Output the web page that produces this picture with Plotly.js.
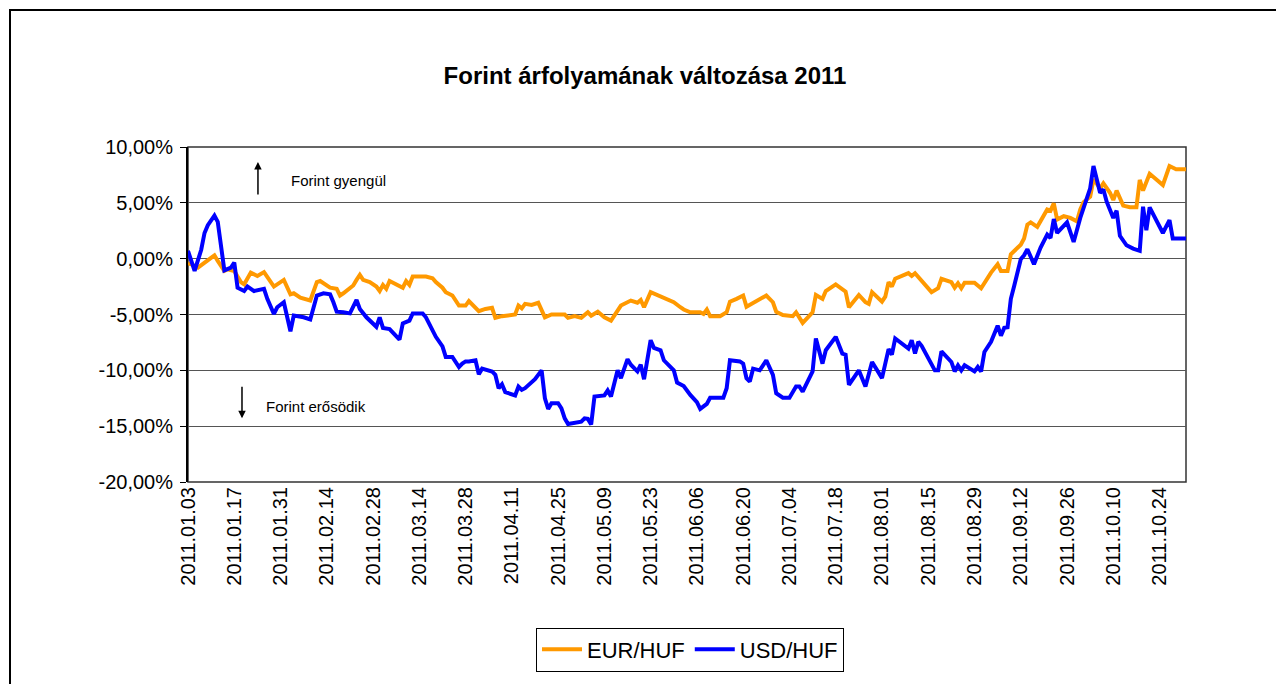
<!DOCTYPE html>
<html>
<head>
<meta charset="utf-8">
<script src="https://cdn.plot.ly/plotly-3.0.1.min.js"></script>
<style>
  html, body { margin: 0; padding: 0; background: #fff; overflow: hidden; }
  #frame { position: absolute; left: 9px; top: 9px; width: 1400px; height: 800px; border: 2px solid #000; box-sizing: border-box; }
  #chart { position: absolute; left: 0; top: 0; width: 1276px; height: 684px; }
</style>
</head>
<body>
<div id="frame"></div>
<div id="chart"></div>
<script>
const FONT = '"Liberation Sans", Arial, sans-serif';

const usdDates = ['2011-01-03','2011-01-05','2011-01-07','2011-01-08','2011-01-09','2011-01-11','2011-01-12','2011-01-13','2011-01-14','2011-01-16',
'2011-01-17','2011-01-18','2011-01-20','2011-01-21','2011-01-23','2011-01-26','2011-01-27','2011-01-29','2011-01-30','2011-02-01',
'2011-02-03','2011-02-04','2011-02-07','2011-02-09','2011-02-11','2011-02-13','2011-02-15','2011-02-16','2011-02-17','2011-02-19',
'2011-02-21','2011-02-23','2011-02-24','2011-02-26','2011-02-27','2011-03-01','2011-03-02','2011-03-03','2011-03-05','2011-03-08',
'2011-03-09','2011-03-11','2011-03-12','2011-03-15','2011-03-16','2011-03-18','2011-03-19','2011-03-21','2011-03-22','2011-03-24',
'2011-03-26','2011-03-27','2011-03-28','2011-03-29','2011-03-31','2011-04-01','2011-04-02','2011-04-05','2011-04-06','2011-04-07',
'2011-04-08','2011-04-09','2011-04-12','2011-04-13','2011-04-14','2011-04-15','2011-04-17','2011-04-18','2011-04-20','2011-04-21',
'2011-04-22','2011-04-23','2011-04-25','2011-04-26','2011-04-27','2011-04-28','2011-05-02','2011-05-03','2011-05-04','2011-05-05',
'2011-05-06','2011-05-09','2011-05-10','2011-05-11','2011-05-13','2011-05-14','2011-05-16','2011-05-17','2011-05-19','2011-05-20',
'2011-05-21','2011-05-23','2011-05-24','2011-05-26','2011-05-27','2011-05-30','2011-05-31','2011-06-02','2011-06-04','2011-06-06',
'2011-06-07','2011-06-09','2011-06-10','2011-06-14','2011-06-15','2011-06-16','2011-06-19','2011-06-20','2011-06-21','2011-06-22',
'2011-06-23','2011-06-25','2011-06-27','2011-06-29','2011-06-30','2011-07-02','2011-07-04','2011-07-06','2011-07-07','2011-07-08',
'2011-07-11','2011-07-12','2011-07-14','2011-07-15','2011-07-18','2011-07-20','2011-07-21','2011-07-22','2011-07-25','2011-07-27',
'2011-07-29','2011-08-01','2011-08-03','2011-08-04','2011-08-05','2011-08-09','2011-08-10','2011-08-11','2011-08-12','2011-08-13',
'2011-08-17','2011-08-18','2011-08-19','2011-08-22','2011-08-23','2011-08-24','2011-08-25','2011-08-26','2011-08-29','2011-08-30',
'2011-08-31','2011-09-01','2011-09-03','2011-09-05','2011-09-06','2011-09-07','2011-09-08','2011-09-09','2011-09-10','2011-09-12',
'2011-09-13','2011-09-14','2011-09-16','2011-09-18','2011-09-20','2011-09-21','2011-09-22','2011-09-23','2011-09-26','2011-09-28',
'2011-09-30','2011-10-03','2011-10-04','2011-10-05','2011-10-06','2011-10-07','2011-10-08','2011-10-10','2011-10-11','2011-10-12',
'2011-10-14','2011-10-16','2011-10-18','2011-10-19','2011-10-20','2011-10-21','2011-10-23','2011-10-25','2011-10-27','2011-10-28',
'2011-11-01'];
const usdValues = [0.7,-1.1,0.8,2.3,3.0,3.85,3.3,1.4,-1.05,-0.8,
-0.35,-2.6,-2.9,-2.5,-2.9,-2.7,-3.6,-4.95,-4.35,-3.9,
-6.5,-5.1,-5.25,-5.45,-3.3,-3.1,-3.2,-3.9,-4.75,-4.8,
-4.9,-3.7,-4.5,-5.25,-5.5,-6.1,-5.25,-6.2,-6.3,-7.25,
-5.8,-5.55,-4.9,-4.9,-5.25,-6.4,-7.0,-7.85,-8.8,-8.8,
-9.7,-9.4,-9.2,-9.2,-9.1,-10.35,-9.85,-10.1,-10.4,-11.6,
-11.25,-11.95,-12.25,-11.45,-11.75,-11.6,-11.1,-10.8,-10.0,-12.5,
-13.45,-12.95,-12.95,-13.4,-14.3,-14.8,-14.6,-14.3,-14.35,-14.85,
-12.35,-12.25,-11.8,-12.35,-10.0,-10.7,-9.0,-9.5,-10.1,-9.5,
-10.8,-7.3,-8.0,-8.2,-9.1,-10.0,-11.1,-11.4,-12.2,-12.85,
-13.45,-13.0,-12.45,-12.45,-11.6,-9.1,-9.2,-9.4,-10.7,-11.0,
-9.85,-10.0,-9.1,-10.4,-12.05,-12.45,-12.45,-11.45,-11.45,-11.9,
-10.1,-7.15,-9.4,-8.2,-7.0,-8.5,-8.6,-11.3,-10.0,-11.45,
-9.25,-10.7,-8.1,-8.6,-7.15,-8.05,-7.3,-8.5,-7.45,-7.8,
-10.0,-10.0,-8.3,-9.25,-10.1,-9.55,-10.0,-9.55,-10.1,-9.7,
-10.1,-8.35,-7.45,-6.0,-6.9,-6.2,-6.15,-3.6,-2.45,-0.05,
0.3,0.85,-0.5,1.0,2.15,1.85,3.55,2.3,3.25,1.5,
3.65,6.3,8.3,7.2,5.9,6.2,5.1,3.65,4.3,2.05,
1.2,0.9,0.7,4.65,2.55,4.6,3.5,2.3,3.45,1.8,
1.8];

const eurDates = ['2011-01-03','2011-01-04','2011-01-06','2011-01-08','2011-01-11','2011-01-12','2011-01-14','2011-01-15','2011-01-17','2011-01-19',
'2011-01-20','2011-01-22','2011-01-24','2011-01-26','2011-01-29','2011-02-01','2011-02-03','2011-02-04','2011-02-06','2011-02-09',
'2011-02-11','2011-02-12','2011-02-13','2011-02-15','2011-02-17','2011-02-18','2011-02-19','2011-02-21','2011-02-22','2011-02-23',
'2011-02-24','2011-02-25','2011-02-27','2011-03-01','2011-03-02','2011-03-03','2011-03-04','2011-03-05','2011-03-07','2011-03-09',
'2011-03-10','2011-03-11','2011-03-12','2011-03-16','2011-03-18','2011-03-19','2011-03-21','2011-03-22','2011-03-24','2011-03-25',
'2011-03-26','2011-03-28','2011-03-29','2011-04-01','2011-04-03','2011-04-05','2011-04-06','2011-04-08','2011-04-12','2011-04-13',
'2011-04-14','2011-04-15','2011-04-17','2011-04-19','2011-04-21','2011-04-23','2011-04-27','2011-04-28','2011-04-30','2011-05-02',
'2011-05-04','2011-05-05','2011-05-07','2011-05-09','2011-05-11','2011-05-13','2011-05-14','2011-05-17','2011-05-19','2011-05-20',
'2011-05-21','2011-05-23','2011-05-25','2011-05-28','2011-05-30','2011-06-01','2011-06-02','2011-06-04','2011-06-07','2011-06-08',
'2011-06-09','2011-06-10','2011-06-13','2011-06-15','2011-06-16','2011-06-18','2011-06-20','2011-06-21','2011-06-24','2011-06-27',
'2011-06-29','2011-06-30','2011-07-02','2011-07-05','2011-07-06','2011-07-08','2011-07-11','2011-07-12','2011-07-14','2011-07-15',
'2011-07-18','2011-07-21','2011-07-22','2011-07-25','2011-07-27','2011-07-28','2011-07-29','2011-08-01','2011-08-02','2011-08-03',
'2011-08-04','2011-08-05','2011-08-09','2011-08-10','2011-08-11','2011-08-14','2011-08-16','2011-08-18','2011-08-19','2011-08-22',
'2011-08-23','2011-08-24','2011-08-25','2011-08-26','2011-08-29','2011-08-31','2011-09-03','2011-09-05','2011-09-06','2011-09-08',
'2011-09-09','2011-09-12','2011-09-13','2011-09-14','2011-09-15','2011-09-17','2011-09-18','2011-09-20','2011-09-21','2011-09-22',
'2011-09-23','2011-09-25','2011-09-27','2011-09-29','2011-09-30','2011-10-01','2011-10-03','2011-10-04','2011-10-06','2011-10-07',
'2011-10-09','2011-10-10','2011-10-11','2011-10-13','2011-10-15','2011-10-17','2011-10-18','2011-10-19','2011-10-21','2011-10-23',
'2011-10-25','2011-10-27','2011-10-29','2011-11-01'];
const eurValues = [-0.4,-0.5,-0.8,-0.35,0.3,-0.2,-1.1,-0.95,-1.1,-2.1,
-2.3,-1.25,-1.55,-1.2,-2.5,-1.9,-3.2,-3.1,-3.5,-3.75,
-2.1,-2.0,-2.2,-2.6,-2.7,-3.3,-3.1,-2.6,-2.4,-1.9,
-1.45,-1.9,-2.1,-2.5,-2.9,-2.35,-2.7,-2.0,-2.35,-2.6,
-2.0,-2.35,-1.6,-1.6,-1.75,-2.1,-2.6,-3.0,-3.3,-3.75,
-4.2,-4.2,-3.8,-4.7,-4.5,-4.4,-5.3,-5.15,-5.0,-4.2,
-4.45,-4.05,-4.15,-3.95,-5.25,-5.0,-5.0,-5.3,-5.15,-5.3,
-4.8,-5.1,-4.75,-5.25,-5.55,-4.65,-4.2,-3.75,-3.95,-3.7,
-4.35,-3.0,-3.25,-3.6,-3.9,-4.35,-4.55,-4.8,-4.8,-4.95,
-4.55,-5.15,-5.15,-4.8,-3.85,-3.6,-3.3,-4.3,-3.75,-3.3,
-3.9,-4.75,-5.05,-5.15,-4.8,-5.75,-4.8,-3.25,-3.6,-2.9,
-2.3,-2.95,-4.35,-3.25,-3.9,-4.05,-3.0,-3.85,-3.4,-2.1,
-2.5,-1.8,-1.3,-1.55,-1.3,-2.3,-3.0,-2.65,-1.8,-2.1,
-2.6,-2.2,-2.65,-2.15,-2.15,-2.65,-1.25,-0.5,-1.1,-1.1,
0.4,1.25,1.8,3.05,3.25,2.85,3.35,4.4,4.3,4.95,
3.5,3.8,3.65,3.35,4.4,5.05,5.55,7.1,6.3,6.75,
5.9,5.25,6.1,4.75,4.6,4.6,7.05,6.1,7.6,7.05,
6.6,8.3,8.0,8.0];

const seriesNames = ['EUR/HUF', 'USD/HUF'];
const seriesColors = ['#FF9900', '#0000FF'];
const chartTitle = 'Forint árfolyamának változása 2011';
const noteUp = 'Forint gyengül';
const noteDown = 'Forint erősödik';
const xRange = ['2011-01-03', '2011-11-01'];
const yRange = [-20, 10];
const yTickVals = [10, 5, 0, -5, -10, -15, -20];
const yTickText = ['10,00%', '5,00%', '0,00%', '-5,00%', '-10,00%', '-15,00%', '-20,00%'];

const DAY = 86400000;

const traces = [
  { x: eurDates, y: eurValues, name: seriesNames[0], type: 'scatter', mode: 'lines',
    line: { color: seriesColors[0], width: 4 } },
  { x: usdDates, y: usdValues, name: seriesNames[1], type: 'scatter', mode: 'lines',
    line: { color: seriesColors[1], width: 4 } }
];

const layout = {
  width: 1276, height: 684,
  paper_bgcolor: 'rgba(0,0,0,0)', plot_bgcolor: 'rgba(0,0,0,0)',
  margin: { l: 188, r: 90, t: 147, b: 200 },
  font: { family: FONT, color: '#000', size: 20 },
  showlegend: true,
  title: { text: chartTitle, font: { family: FONT, size: 24, color: '#000', weight: 'bold' },
           x: 0.5055, xref: 'container', xanchor: 'center', y: 0.889, yref: 'container', yanchor: 'middle' },
  xaxis: {
    type: 'date', range: xRange, tick0: xRange[0], dtick: 14 * DAY,
    tickformat: '%Y.%m.%d', tickangle: -90, ticks: '', showgrid: false, zeroline: false,
    showline: false, tickfont: { family: FONT, size: 20, color: '#000' }, fixedrange: true
  },
  xaxis2: {
    type: 'date', range: xRange, tick0: xRange[0], dtick: 14 * DAY, overlaying: 'x',
    anchor: 'free', position: 0.6668, side: 'bottom', ticks: 'outside', ticklen: 6,
    tickcolor: '#000', tickwidth: 1, showticklabels: false, showgrid: false, zeroline: false, showline: false
  },
  yaxis: {
    range: yRange, tickmode: 'array', tickvals: yTickVals, ticktext: yTickText,
    ticks: 'outside', ticklen: 6, tickcolor: '#000', showline: true, linecolor: '#000', linewidth: 2,
    ticklabelstandoff: 3,
    showgrid: true, gridcolor: '#555', gridwidth: 1, zeroline: false,
    tickfont: { family: FONT, size: 20, color: '#000' }
  },
  legend: {
    orientation: 'h', x: 0.503, xanchor: 'center', y: -0.5, yanchor: 'middle',
    bordercolor: '#000', borderwidth: 1, bgcolor: '#fff',
    font: { family: FONT, size: 22, color: '#000' }, itemwidth: 40
  },
  shapes: [
    { type: 'rect', xref: 'paper', yref: 'paper', x0: 0, x1: 1, y0: 0, y1: 1,
      line: { color: '#333', width: 1.5 }, layer: 'below' }
  ],
  annotations: [
    { xref: 'paper', yref: 'paper', x: 0.1012, y: 0.899, xanchor: 'left', yanchor: 'middle',
      text: noteUp, showarrow: false, font: { family: FONT, size: 15, color: '#000' } },
    { xref: 'paper', yref: 'paper', x: 0.0701, y: 0.9555, text: '', showarrow: true,
      ax: 0, ay: 34, arrowhead: 2, arrowsize: 1, arrowwidth: 1.5, arrowcolor: '#000' },
    { xref: 'paper', yref: 'paper', x: 0.0762, y: 0.2255, xanchor: 'left', yanchor: 'middle',
      text: noteDown, showarrow: false, font: { family: FONT, size: 15, color: '#000' } },
    { xref: 'paper', yref: 'paper', x: 0.0541, y: 0.19, text: '', showarrow: true,
      ax: 0, ay: -33, arrowhead: 2, arrowsize: 1, arrowwidth: 1.5, arrowcolor: '#000' }
  ]
};

Plotly.newPlot('chart', traces, layout, { staticPlot: true, displayModeBar: false });
</script>
</body>
</html>
